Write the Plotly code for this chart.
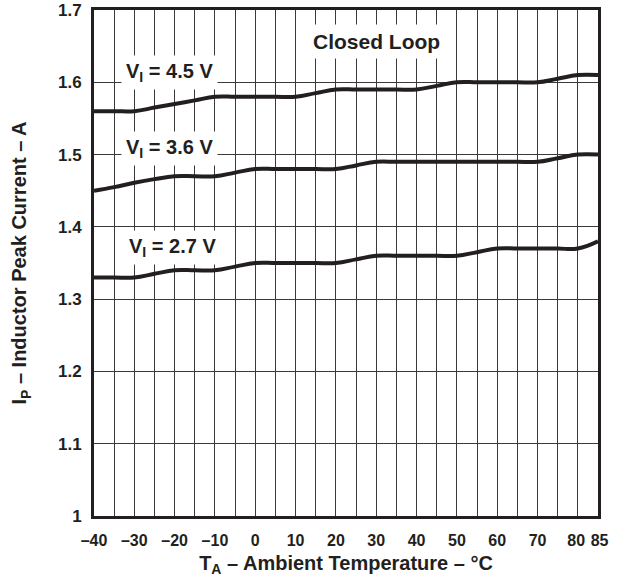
import plotly.graph_objects as go

temps = [-40, -35, -30, -25, -20, -15, -10, -5, 0, 5, 10, 15, 20, 25, 30, 35, 40, 45, 50, 55, 60, 65, 70, 75, 80, 85]
ip_45 = [1.56, 1.56, 1.56, 1.565, 1.57, 1.575, 1.58, 1.58, 1.58, 1.58, 1.58, 1.585, 1.59, 1.59, 1.59, 1.59, 1.59, 1.595, 1.60, 1.60, 1.60, 1.60, 1.60, 1.605, 1.61, 1.61]
ip_36 = [1.45, 1.455, 1.461, 1.466, 1.47, 1.47, 1.47, 1.475, 1.48, 1.48, 1.48, 1.48, 1.48, 1.485, 1.49, 1.49, 1.49, 1.49, 1.49, 1.49, 1.49, 1.49, 1.49, 1.495, 1.50, 1.50]
ip_27 = [1.33, 1.33, 1.33, 1.335, 1.34, 1.34, 1.34, 1.345, 1.35, 1.35, 1.35, 1.35, 1.35, 1.355, 1.36, 1.36, 1.36, 1.36, 1.36, 1.365, 1.37, 1.37, 1.37, 1.37, 1.37, 1.38]

x_gridvals = list(range(-40, 90, 5))
x_tickvals = [-40, -30, -20, -10, 0, 10, 20, 30, 40, 50, 60, 70, 80, 85]
x_ticktext = ["\u201340", "\u201330", "\u201320", "\u201310", "0", "10", "20", "30", "40", "50", "60", "70", "80\u2009", "\u200985"]
y_tickvals = [1.0, 1.1, 1.2, 1.3, 1.4, 1.5, 1.6, 1.7]
y_ticktext = ["1", "1.1", "1.2", "1.3", "1.4", "1.5", "1.6", "1.7"]

series = [("V<sub>I</sub> = 4.5 V", ip_45, -21.2, 1.613),
          ("V<sub>I</sub> = 3.6 V", ip_36, -21.2, 1.508),
          ("V<sub>I</sub> = 2.7 V", ip_27, -20.5, 1.371)]

FONT = "Liberation Sans, Arial, Helvetica, sans-serif"
INK = "#231f20"
GRID = "#3a3a3a"

fig = go.Figure()
for name, ys, lx, ly in series:
    fig.add_trace(go.Scatter(x=temps, y=ys, mode="lines",
                             line=dict(color=INK, width=4, shape="spline", smoothing=1.2),
                             showlegend=False, hoverinfo="skip"))
    fig.add_annotation(x=lx, y=ly, text="<b>" + name + "</b>", showarrow=False,
                       font=dict(family=FONT, size=20, color=INK),
                       bgcolor="white", borderpad=4)

fig.add_annotation(x=30, y=1.657, text="<b>Closed Loop</b>", showarrow=False,
                   font=dict(family=FONT, size=21, color=INK),
                   bgcolor="white", borderpad=5)

fig.update_layout(
    width=623, height=587,
    margin=dict(l=94, r=25, t=10, b=71),
    paper_bgcolor="white", plot_bgcolor="white",
    font=dict(family=FONT, color=INK),
)
fig.update_xaxes(
    range=[-40, 85], tickvals=x_tickvals, ticktext=x_ticktext, tickangle=0,
    showgrid=True, gridcolor=GRID, gridwidth=1,
    minor=dict(tickvals=x_gridvals, showgrid=True, gridcolor=GRID, gridwidth=1, ticks=""),
    showline=True, linecolor=INK, linewidth=3, mirror=True,
    ticks="", ticklabelstandoff=8, zeroline=False,
    tickfont=dict(family=FONT, size=16, color=INK, weight="bold"),
    title=dict(text="<b>T<sub>A</sub> \u2013 Ambient Temperature \u2013 \u00b0C</b>",
               font=dict(family=FONT, size=20, color=INK), standoff=8),
    automargin=False,
)
fig.update_yaxes(
    range=[1.0, 1.7], tickvals=y_tickvals, ticktext=y_ticktext,
    showgrid=True, gridcolor=GRID, gridwidth=1,
    showline=True, linecolor=INK, linewidth=3, mirror=True,
    ticks="", ticklabelstandoff=6, zeroline=False,
    tickfont=dict(family=FONT, size=17, color=INK, weight="bold"),
    title=dict(text="<b>I<sub>P</sub> \u2013 Inductor Peak Current \u2013 A</b>",
               font=dict(family=FONT, size=20, color=INK), standoff=26),
    automargin=False,
)

fig.write_html("out.html")
